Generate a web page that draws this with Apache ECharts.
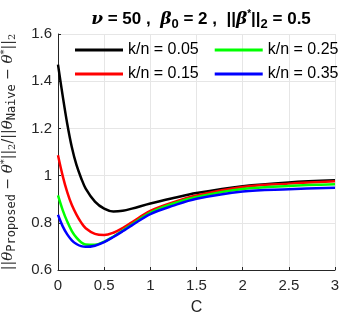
<!DOCTYPE html>
<html>
<head>
<meta charset="utf-8">
<script src="https://cdn.jsdelivr.net/npm/echarts@6/dist/echarts.min.js"></script>
<style>
html, body { margin: 0; padding: 0; background: #fff; }
#main { width: 343px; height: 320px; }
</style>
</head>
<body>
<div id="main"></div>
<script>
// C values along the x axis
var cValues = [0, 0.05, 0.1, 0.15, 0.2, 0.25, 0.3, 0.4, 0.5, 0.6, 0.7, 0.8, 1.0, 1.25, 1.5, 2.0, 2.5, 3.0];

// ratio for each k/n
var kn005 = [1.47, 1.34, 1.22, 1.12, 1.045, 0.99, 0.945, 0.89, 0.86, 0.848, 0.851, 0.86, 0.882, 0.905, 0.926, 0.955, 0.971, 0.98];
var kn015 = [1.086, 1.0, 0.93, 0.875, 0.835, 0.802, 0.777, 0.753, 0.748, 0.758, 0.778, 0.802, 0.85, 0.887, 0.916, 0.952, 0.966, 0.976];
var kn025 = [0.916, 0.855, 0.805, 0.765, 0.737, 0.718, 0.708, 0.707, 0.72, 0.742, 0.767, 0.793, 0.843, 0.882, 0.909, 0.943, 0.956, 0.963];
var kn035 = [0.834, 0.786, 0.751, 0.726, 0.71, 0.701, 0.698, 0.703, 0.718, 0.74, 0.764, 0.789, 0.837, 0.873, 0.902, 0.933, 0.942, 0.949];

var seriesNames = ['k/n = 0.05', 'k/n = 0.15', 'k/n = 0.25', 'k/n = 0.35'];
var seriesColors = ['#000000', '#ff0000', '#00ff00', '#0000ff'];
var seriesValues = [kn005, kn015, kn025, kn035];

var xTicks = { min: 0, max: 3, interval: 0.5 };
var yTicks = { min: 0.6, max: 1.6, interval: 0.2 };

function pairs(ys) {
    return cValues.map(function (c, i) { return [c, ys[i]]; });
}

var myChart = echarts.init(document.getElementById('main'));

var series = seriesValues.map(function (ys, i) {
    return {
        name: seriesNames[i],
        type: 'line',
        smooth: 0.35,
        showSymbol: false,
        lineStyle: { color: seriesColors[i], width: 2.5 },
        itemStyle: { color: seriesColors[i] },
        data: pairs(ys)
    };
});

var legendCommon = {
    width: 280,
    itemWidth: 48,
    itemHeight: 3,
    itemGap: 16,
    icon: 'rect',
    textStyle: { fontFamily: 'Liberation Sans', fontSize: 16, color: '#000' }
};

myChart.setOption({
    animation: false,
    title: {
        text: '{b|ν}{n| = 50 ,  }{b|β}{s|0}{n| = 2 ,  ||}{b|β}{sp|*}{n|||}{s|2}{n| = 0.5}',
        left: 196,
        textAlign: 'center',
        top: 3,
        textStyle: {
            rich: {
                n: { fontFamily: 'Liberation Sans', fontWeight: 'bold', fontSize: 17, color: '#000' },
                b: { fontFamily: 'DejaVu Serif', fontWeight: 'bold', fontStyle: 'italic', fontSize: 17, color: '#000' },
                s: { fontFamily: 'Liberation Sans', fontWeight: 'bold', fontSize: 13, color: '#000', padding: [10, 0, 0, 0] },
                sp: { fontFamily: 'Liberation Sans', fontWeight: 'bold', fontSize: 10, color: '#000', padding: [0, 0, 10, 0] }
            }
        }
    },
    legend: [
        Object.assign({ left: 70, top: 37, data: [seriesNames[0], seriesNames[2]] }, legendCommon),
        Object.assign({ left: 70, top: 61, data: [seriesNames[1], seriesNames[3]] }, legendCommon)
    ],
    grid: { left: 58, right: 8, top: 34, bottom: 50, outerBoundsMode: 'none' },
    xAxis: {
        type: 'value',
        min: xTicks.min,
        max: xTicks.max,
        interval: xTicks.interval,
        name: 'C',
        nameLocation: 'middle',
        nameGap: 30,
        nameTextStyle: { fontFamily: 'Liberation Sans', fontSize: 16, color: '#262626' },
        axisLine: { show: true, lineStyle: { color: '#262626', width: 1 } },
        axisTick: { show: true, inside: true, length: 3, lineStyle: { color: '#262626' } },
        axisLabel: { fontFamily: 'Liberation Sans', fontSize: 15, color: '#262626', margin: 8 },
        splitLine: { show: true, lineStyle: { color: '#e6e6e6', width: 1 } }
    },
    yAxis: {
        type: 'value',
        min: yTicks.min,
        max: yTicks.max,
        interval: yTicks.interval,
        name: '{n|||}{t|θ}{m|Proposed}{n| − }{t|θ}{sp|*}{n|||}{s|2}{n|/||}{t|θ}{m|Naive}{n| − }{t|θ}{sp|*}{n|||}{s|2}',
        nameLocation: 'middle',
        nameRotate: 90,
        nameGap: 40,
        nameTextStyle: {
            rich: {
                n: { fontFamily: 'DejaVu Serif', fontSize: 14, color: '#262626' },
                t: { fontFamily: 'DejaVu Serif', fontStyle: 'italic', fontSize: 15, color: '#262626' },
                m: { fontFamily: 'DejaVu Sans Mono', fontSize: 12, color: '#262626', padding: [8, 0, 0, 0] },
                s: { fontFamily: 'DejaVu Serif', fontSize: 10, color: '#262626', padding: [8, 0, 0, 0] },
                sp: { fontFamily: 'DejaVu Serif', fontSize: 10, color: '#262626', padding: [0, 0, 8, 0] }
            }
        },
        axisLine: { show: true, lineStyle: { color: '#262626', width: 1 } },
        axisTick: { show: true, inside: true, length: 3, lineStyle: { color: '#262626' } },
        axisLabel: { fontFamily: 'Liberation Sans', fontSize: 15, color: '#262626', margin: 6 },
        splitLine: { show: true, lineStyle: { color: '#e6e6e6', width: 1 } }
    },
    series: series
});
</script>
</body>
</html>
